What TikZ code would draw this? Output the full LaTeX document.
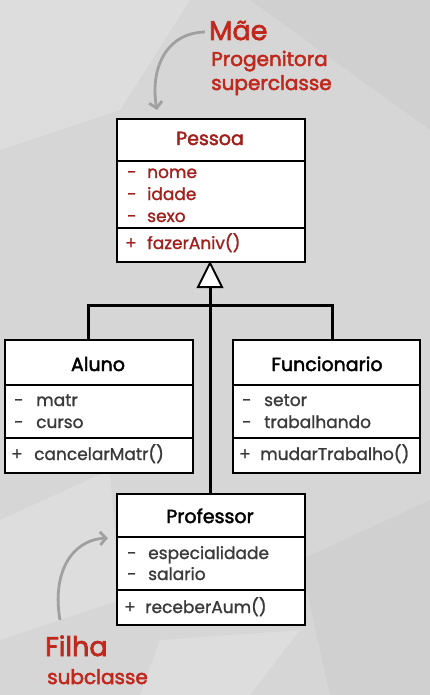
\documentclass[tikz,border=0pt]{standalone}
\usepackage{fontspec}
\setmainfont{Poppins}[FakeBold=1.2]
\newfontfamily\titlefont{Poppins}[FakeBold=2.2]
\newfontfamily\lblfont{Poppins}[FakeBold=2.5]
\usetikzlibrary{arrows.meta}
\definecolor{bg}{HTML}{D6D6D6}
\definecolor{bglight}{HTML}{DDDDDD}
\definecolor{bgdark}{HTML}{D0D0D0}
\definecolor{lblred}{HTML}{C0281E}
\definecolor{clsred}{HTML}{A0201C}
\definecolor{txtgray}{HTML}{3A3A3A}
\definecolor{arrgray}{HTML}{A0A0A0}
\begin{document}
\begin{tikzpicture}[x=1pt,y=-1pt,
  classbox/.style={draw=black, line width=1.8pt, fill=white, inner sep=0pt, anchor=north west, minimum width=188pt},
  sepline/.style={line width=1.8pt},
  ctitle/.style={anchor=base, inner sep=0pt, font=\titlefont\fontsize{19}{19}\selectfont},
  member/.style={anchor=base west, inner sep=0pt, font=\fontsize{17}{17}\selectfont},
  conn/.style={line width=3pt},
  biglbl/.style={anchor=base west, inner sep=0pt, text=lblred, font=\lblfont\fontsize{27}{27}\selectfont},
  smalllbl/.style={anchor=base west, inner sep=0pt, text=lblred, font=\lblfont\fontsize{20}{20}\selectfont},
  note/.style={draw=arrgray, line width=2.8pt, -{Straight Barb[length=6pt,width=13pt]}}
]
\fill[bg] (0,0) rectangle (430,695);
\fill[bglight] (0,0) -- (190,0) -- (120,110) -- (0,150) -- cycle;
\fill[bgdark] (250,0) -- (430,0) -- (430,130) -- cycle;
\fill[bglight] (0,520) -- (110,470) -- (120,600) -- (0,640) -- cycle;
\fill[bgdark] (300,560) -- (430,500) -- (430,695) -- (330,695) -- cycle;
\fill[bglight] (160,640) -- (300,630) -- (250,695) -- (140,695) -- cycle;
\useasboundingbox (0,0) rectangle (430,695);

% connectors
\coordinate (apex) at (210,263);
\coordinate (tribase) at (210,287);
\coordinate (ja) at (88,305);
\coordinate (jf) at (332,305);
\draw[conn] (ja |- 0,339) -- (ja) -- (jf) -- (jf |- 0,339);
\draw[conn] (tribase) -- (210,493);
\draw[line width=2pt, fill=white, line join=miter] (apex) -- (222,287) -- (198,287) -- cycle;

% Pessoa
\node[classbox, minimum height=143pt] (pessoa) at (116,118) {};
\draw[sepline] (116,161) -- (304,161);
\draw[sepline] (116,228) -- (304,228);
\node[ctitle, text=clsred] (pt) at (210,145) {Pessoa};
\node[member, text=clsred] (p1a) at (127,178) {-};
\node[member, text=clsred] (p1) at (147,178) {nome};
\node[member, text=clsred] (p2a) at (127,200) {-};
\node[member, text=clsred] (p2) at (147,200) {idade};
\node[member, text=clsred] (p3a) at (127,222) {-};
\node[member, text=clsred] (p3) at (147,222) {sexo};
\node[member, text=clsred] (p4a) at (125,249) {+};
\node[member, text=clsred] (p4) at (147,249) {fazerAniv()};

% Aluno
\node[classbox, minimum height=133pt] (aluno) at (4,339) {};
\draw[sepline] (4,385) -- (192,385);
\draw[sepline] (4,438) -- (192,438);
\node[ctitle] (at) at (98,371) {Aluno};
\node[member, text=txtgray] (a1a) at (14,406) {-};
\node[member, text=txtgray] (a1) at (36,406) {matr};
\node[member, text=txtgray] (a2a) at (14,428) {-};
\node[member, text=txtgray] (a2) at (36,428) {curso};
\node[member, text=txtgray] (a3a) at (11,460) {+};
\node[member, text=txtgray] (a3) at (34,460) {cancelarMatr()};

% Funcionario
\node[classbox, minimum width=187pt, minimum height=133pt] (func) at (232,339) {};
\draw[sepline] (232,385) -- (419,385);
\draw[sepline] (232,438) -- (419,438);
\node[ctitle] (ft) at (327,371) {Funcionario};
\node[member, text=txtgray] (f1a) at (242,406) {-};
\node[member, text=txtgray] (f1) at (264,406) {setor};
\node[member, text=txtgray] (f2a) at (242,428) {-};
\node[member, text=txtgray] (f2) at (264,428) {trabalhando};
\node[member, text=txtgray] (f3a) at (239,460) {+};
\node[member, text=txtgray] (f3) at (260,460) {mudarTrabalho()};

% Professor
\node[classbox, minimum height=131pt] (prof) at (116,493) {};
\draw[sepline] (116,537) -- (304,537);
\draw[sepline] (116,590) -- (304,590);
\node[ctitle] (prt) at (210,523) {Professor};
\node[member, text=txtgray] (r1a) at (127,559) {-};
\node[member, text=txtgray] (r1) at (148,559) {especialidade};
\node[member, text=txtgray] (r2a) at (127,580) {-};
\node[member, text=txtgray] (r2) at (148,580) {salario};
\node[member, text=txtgray] (r3a) at (124,613) {+};
\node[member, text=txtgray] (r3) at (145,613) {receberAum()};

% labels
\node[biglbl] (mae) at (209,40) {Mãe};
\node[smalllbl] (prog) at (211,66) {Progenitora};
\node[smalllbl] (super) at (211,90) {superclasse};
\node[biglbl] (filha) at (45,656) {Filha};
\node[smalllbl] (sub) at (47,684) {subclasse};

\coordinate (n1s) at (205,32);
\coordinate (n1e) at (157,110);
\draw[note] (n1s) .. controls (165,33) and (150,70) .. (n1e);
\coordinate (n2s) at (60,620);
\coordinate (n2e) at (108,538);
\draw[note] (n2s) .. controls (52,575) and (70,540) .. (n2e);
\end{tikzpicture}
\end{document}
